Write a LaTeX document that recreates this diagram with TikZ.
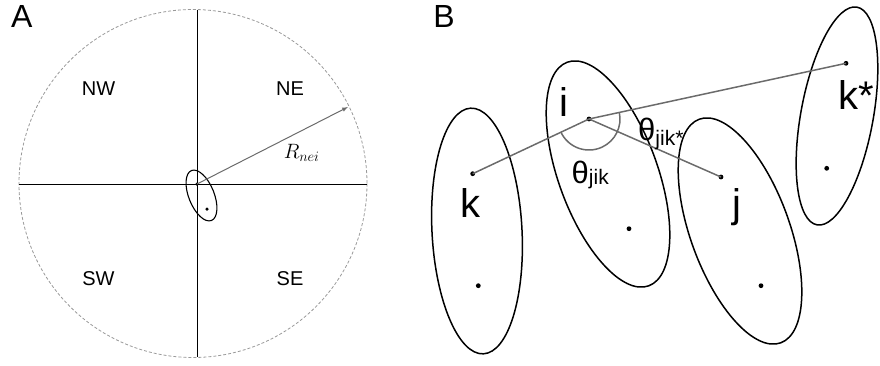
\documentclass[tikz,border=0pt]{standalone}
\usepackage{fontspec}
\setmainfont{Liberation Sans}
\usetikzlibrary{positioning}

\begin{document}
\begin{tikzpicture}[
  x=1pt,y=-1pt,
  panel/.style={font=\fontsize{32}{32}\selectfont,inner sep=0pt},
  sector/.style={font=\fontsize{20}{20}\selectfont,inner sep=0pt},
  tag/.style={font=\fontsize{40}{40}\selectfont,inner sep=0pt},
  ang/.style={font=\fontsize{31}{31}\selectfont,inner sep=0pt,anchor=base west},
  cell/.style={draw=black,line width=1.5pt},
  dot/.style={circle,fill=black,inner sep=0pt,minimum size=4.8pt},
  link/.style={draw=black!58,line width=1.5pt},
  crossline/.style={draw=black,line width=1pt},
  nbrhood/.style={draw=black!40,line width=0.8pt,dash pattern=on 3pt off 2pt}
  ]
  \useasboundingbox (0,0) rectangle (880,365);

  % panel A
  \node (pa) [panel] at (21.7,16.7) {A};
  \coordinate (ca) at (193,183.5);
  \draw [nbrhood] (ca) circle (174);
  \coordinate (aw) at (19,184);
  \coordinate (ae) at (367,184);
  \coordinate (an) at (197,10);
  \coordinate (as) at (197,357);
  \path [crossline] (aw) -- (ae);
  \path [crossline] (an) -- (as);

  \node (nw) [sector] at (98.5,88.7) {NW};
  \node (ne) [sector] at (290,88.7) {NE};
  \node (sw) [sector] at (98.5,278.7) {SW};
  \node (se) [sector] at (290,278.7) {SE};

  \coordinate (cs) at (201.5,195.5);
  \draw [cell,line width=1.1pt,rotate around={21.8:(cs)}] (cs) ellipse (12.7 and 26.9);
  \node (sa) [dot,minimum size=3.5pt] at (197,184) {};
  \node (sb) [dot,minimum size=3.5pt] at (207,209) {};
  \coordinate (edge) at (348,107);
  \path [link,line width=1pt,->,>=latex] (sa.center) -- (edge);
  \node (rnei) [inner sep=0pt,font=\fontsize{22}{26}\selectfont] at (301.7,153) {$R_{nei}$};

  % panel B
  \node (pb) [panel] at (444,16.7) {B};

  \coordinate (ck) at (477,231);
  \coordinate (ci) at (608,174);
  \coordinate (cj) at (740,231);
  \coordinate (cks) at (837,116);
  \draw [cell,rotate around={3:(ck)}] (ck) ellipse (45 and 123);
  \draw [cell,rotate around={20:(ci)}] (ci) ellipse (49.5 and 119);
  \draw [cell,rotate around={20:(cj)}] (cj) ellipse (49.5 and 119);
  \draw [cell,rotate around={-10.4:(cks)}] (cks) ellipse (36.2 and 110.7);

  \node (dk) [dot] at (472.7,173.7) {};
  \node (dk2) [dot] at (478.3,285.7) {};
  \node (di) [dot] at (589,119) {};
  \node (di2) [dot] at (629,228.7) {};
  \node (dj) [dot] at (721,177) {};
  \node (dj2) [dot] at (761,285.7) {};
  \node (dks) [dot] at (846,63.3) {};
  \node (dks2) [dot] at (826.7,168.3) {};

  \path [link] (dk.center) -- (di.center);
  \path [link] (di.center) -- (dj.center);
  \path [link] (di.center) -- (dks.center);
  \draw [black!58,line width=1.5pt] (di.center) ++(155:31) arc (155:-12:31);

  \node (lk) [tag,below=12pt of dk,xshift=-2pt] {k};
  \node (li) [tag,above left=0pt and 19pt of di] {i};
  \node (lj) [tag,below right=9.5pt and 9pt of dj] {j};
  \node (lks) [tag,below=14.5pt of dks,xshift=10pt] {k*};

  \node (tjik) [ang] at (571.5,183) {θ{\fontsize{21}{21}\selectfont\raisebox{-1pt}{jik}}};
  \node (tjiks) [ang] at (638,140) {θ{\fontsize{21}{21}\selectfont\raisebox{-5pt}{jik*}}};
\end{tikzpicture}
\end{document}
